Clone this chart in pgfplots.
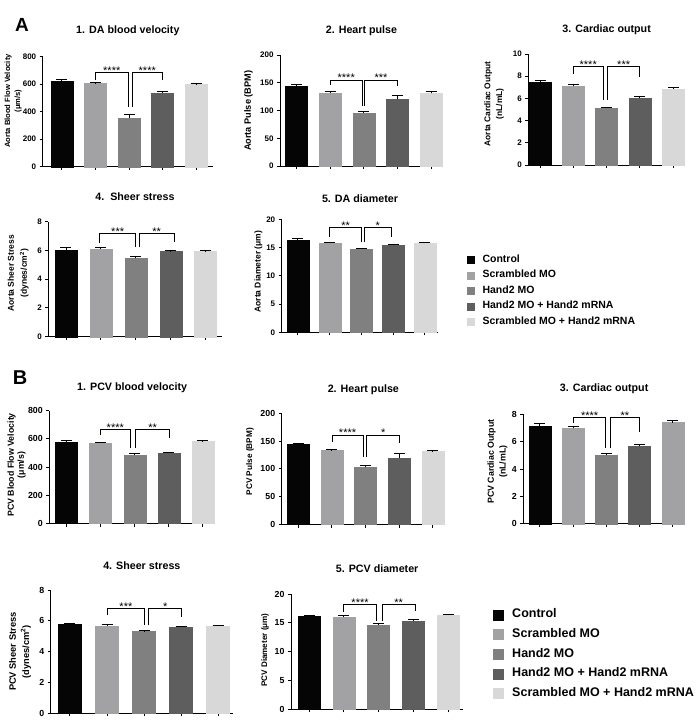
\documentclass[border=0pt]{standalone}
\usepackage{pgfplots}
\pgfplotsset{compat=1.18}
\usepackage{fontspec}
\setmainfont{Liberation Sans}
\definecolor{c1}{HTML}{050505}
\definecolor{c2}{HTML}{A2A2A4}
\definecolor{c3}{HTML}{808080}
\definecolor{c4}{HTML}{5E5E5E}
\definecolor{c5}{HTML}{D8D8D8}
\newcommand{\brk}[6]{%
  \draw[line width=0.8pt] (axis cs:#1,#2) -- (axis cs:#1,#5) -- node[anchor=base, yshift=-1.8pt, inner sep=0pt, font=\fontsize{11}{11}\selectfont] {#6} (axis cs:#3,#5) -- (axis cs:#3,#4);}
\pgfplotsset{
  panel/.style={
    ybar, bar width=22pt, bar shift=0pt,
    scale only axis, clip=false,
    axis x line=bottom, axis y line=left,
    axis line style={line width=1pt, -},
    tick style={line width=1pt, black},
    major tick length=3pt, tick align=outside,
    xtick={0,1,2,3,4}, xticklabels={,,,,},
    ymin=0, enlargelimits=false,
    /pgf/number format/assume math mode=true,
    yticklabel style={font=\bfseries\fontsize{8}{9}\selectfont},
    ylabel style={align=center, anchor=center},
    title style={at={(0.5,1)}, anchor=center, font=\bfseries\fontsize{10.7}{12}\selectfont},
    error bars/y dir=plus, error bars/y explicit,
    error bars/error bar style={line width=1pt, black},
    error bars/error mark options={rotate=90, mark size=5.5pt, line width=1pt, black},
  },
  b1/.style={fill=c1, draw=c1},
  b2/.style={fill=c2, draw=c2},
  b3/.style={fill=c3, draw=c3},
  b4/.style={fill=c4, draw=c4},
  b5/.style={fill=c5, draw=c5},
}
\begin{document}
\begin{tikzpicture}
\useasboundingbox (0,0) rectangle (700pt,-725pt);
\node[font=\bfseries\fontsize{19}{20}\selectfont] at (22pt,-25pt) {A};
\node[font=\bfseries\fontsize{20}{21}\selectfont] at (20pt,-378pt) {B};

% ---------- A1
\begin{axis}[panel, at={(42.7pt,-166.7pt)}, anchor=south west,
  width=170.3pt, height=110pt, xmin=-0.576, xmax=4.507, ymax=800, ytick distance=200,
  title={1. DA blood velocity}, title style={yshift=20pt},
  ylabel={Aorta Blood Flow Velocity\\(μm/s)},
  ylabel style={at={(axis description cs:-0.173,0.597)}, font=\bfseries\fontsize{7.6}{10}\selectfont}]
\addplot[b1] coordinates {(0,620) +- (0,15)};
\addplot[b2] coordinates {(1,605) +- (0,5)};
\addplot[b3] coordinates {(2,355) +- (0,22)};
\addplot[b4] coordinates {(3,538) +- (0,8)};
\addplot[b5] coordinates {(4,600) +- (0,4)};
\brk{1}{630}{1.97}{436}{686}{****}
\brk{2.09}{436}{3}{630}{686}{****}
\end{axis}

% ---------- A2
\begin{axis}[panel, at={(280pt,-166pt)}, anchor=south west,
  width=163pt, height=111pt, xmin=-0.497, xmax=4.357, ymax=200, ytick distance=50,
  title={2. Heart pulse}, title style={yshift=18.3pt},
  ylabel={Aorta Pulse (BPM)},
  ylabel style={at={(axis description cs:-0.194,0.497)}, font=\bfseries\fontsize{9.2}{11}\selectfont}]
\addplot[b1] coordinates {(0,143) +- (0,3)};
\addplot[b2] coordinates {(1,132) +- (0,3)};
\addplot[b3] coordinates {(2,96) +- (0,2)};
\addplot[b4] coordinates {(3,120) +- (0,7)};
\addplot[b5] coordinates {(4,131) +- (0,3)};
\brk{1}{146}{1.95}{108}{155}{****}
\brk{2.02}{108}{3}{144}{155}{***}
\end{axis}

% ---------- A3
\begin{axis}[panel, at={(528.3pt,-165pt)}, anchor=south west,
  width=156.7pt, height=111pt, xmin=-0.352, xmax=4.36, ymax=10, ytick distance=2,
  title={3. Cardiac output}, title style={yshift=18pt},
  ylabel={Aorta Cardiac Output\\(nL/mL)},
  ylabel style={at={(axis description cs:-0.218,0.55)}, font=\bfseries\fontsize{8.4}{11.7}\selectfont}]
\addplot[b1] coordinates {(0,7.45) +- (0,0.2)};
\addplot[b2] coordinates {(1,7.1) +- (0,0.15)};
\addplot[b3] coordinates {(2,5.15) +- (0,0.07)};
\addplot[b4] coordinates {(3,6.0) +- (0,0.2)};
\addplot[b5] coordinates {(4,6.85) +- (0,0.15)};
\brk{1}{8.2}{1.9}{5.9}{8.9}{****}
\brk{2.03}{5.9}{3}{7.9}{8.9}{***}
\end{axis}

% ---------- A4
\begin{axis}[panel, at={(48.3pt,-336.7pt)}, anchor=south west,
  width=173.4pt, height=115pt, xmin=-0.507, xmax=4.46, ymax=8, ytick distance=2,
  title={4.\ \ Sheer stress}, title style={yshift=19pt},
  ylabel={Aorta Sheer Stress\\(dynes/cm\textsuperscript{2})},
  ylabel style={at={(axis description cs:-0.173,0.551)}, font=\bfseries\fontsize{8.5}{13}\selectfont}]
\addplot[b1] coordinates {(0,6.05) +- (0,0.18)};
\addplot[b2] coordinates {(1,6.12) +- (0,0.08)};
\addplot[b3] coordinates {(2,5.45) +- (0,0.1)};
\addplot[b4] coordinates {(3,5.92) +- (0,0.08)};
\addplot[b5] coordinates {(4,5.92) +- (0,0.05)};
\brk{0.97}{6.55}{1.99}{6.26}{7.2}{***}
\brk{2.09}{6.26}{3.1}{6.6}{7.2}{**}
\end{axis}

% ---------- A5 (with legend)
\begin{axis}[panel, at={(281.7pt,-332.3pt)}, anchor=south west,
  width=156.6pt, height=113pt, xmin=-0.513, xmax=4.42, ymax=20, ytick distance=5,
  title={5. DA diameter}, title style={yshift=14.3pt},
  ylabel={Aorta Diameter (μm)},
  ylabel style={at={(axis description cs:-0.149,0.536)}, font=\bfseries\fontsize{8.5}{10}\selectfont},
  legend image code/.code={\fill[#1] (0pt,-3.5pt) rectangle (7pt,3.5pt);},
  legend cell align=left,
  legend style={at={(axis description cs:1.183,0.686)}, anchor=north west, draw=none, fill=none,
    inner sep=0pt, row sep=5.5pt, column sep=8pt,
    font=\bfseries\fontsize{10.5}{12}\selectfont,
    nodes={inner sep=0pt, text height=7.5pt, text depth=2.5pt}}]
\addplot[b1] coordinates {(0,16.3) +- (0,0.3)};
\addplot[b2] coordinates {(1,15.8) +- (0,0.15)};
\addplot[b3] coordinates {(2,14.75) +- (0,0.12)};
\addplot[b4] coordinates {(3,15.4) +- (0,0.15)};
\addplot[b5] coordinates {(4,15.8) +- (0,0.15)};
\legend{Control, Scrambled MO, Hand2 MO, Hand2 MO + Hand2 mRNA, Scrambled MO + Hand2 mRNA}
\brk{1}{16.9}{2.0}{16.05}{18.6}{**}
\brk{2.1}{16.05}{2.93}{16.8}{18.6}{*}
\end{axis}

% ---------- B1
\begin{axis}[panel, at={(49.3pt,-523.5pt)}, anchor=south west,
  width=165.7pt, height=112.8pt, xmin=-0.51, xmax=4.36, ymax=800, ytick distance=200,
  yticklabel style={font=\bfseries\fontsize{8.8}{10}\selectfont},
  title={1. PCV blood velocity}, title style={yshift=17.4pt},
  ylabel={PCV Blood Flow Velocity\\(μm/s)},
  ylabel style={at={(axis description cs:-0.197,0.519)}, font=\bfseries\fontsize{8.8}{10}\selectfont}]
\addplot[b1] coordinates {(0,580) +- (0,7)};
\addplot[b2] coordinates {(1,570) +- (0,6)};
\addplot[b3] coordinates {(2,488) +- (0,5)};
\addplot[b4] coordinates {(3,502) +- (0,5)};
\addplot[b5] coordinates {(4,583) +- (0,4)};
\brk{1}{627}{1.86}{537}{667}{****}
\brk{2.02}{537}{3.03}{608}{667}{**}
\end{axis}

% ---------- B2
\begin{axis}[panel, at={(281.7pt,-524.5pt)}, anchor=south west,
  width=163.3pt, height=111.2pt, xmin=-0.494, xmax=4.365, ymax=200, ytick distance=50,
  yticklabel style={font=\bfseries\fontsize{8.8}{10}\selectfont},
  title={2. Heart pulse}, title style={yshift=17.6pt},
  ylabel={PCV Pulse (BPM)},
  ylabel style={at={(axis description cs:-0.194,0.565)}, font=\bfseries\fontsize{8.2}{10}\selectfont}]
\addplot[b1] coordinates {(0,144) +- (0,2)};
\addplot[b2] coordinates {(1,133) +- (0,2)};
\addplot[b3] coordinates {(2,103) +- (0,3)};
\addplot[b4] coordinates {(3,120) +- (0,7)};
\addplot[b5] coordinates {(4,131) +- (0,3)};
\brk{1}{149}{1.93}{121}{161}{****}
\brk{2.03}{121}{3.02}{146}{161}{*}
\end{axis}

% ---------- B3
\begin{axis}[panel, at={(523.3pt,-523.7pt)}, anchor=south west,
  width=161.7pt, height=109.4pt, xmin=-0.503, xmax=4.37, ymax=8, ytick distance=2,
  yticklabel style={font=\bfseries\fontsize{8.8}{10}\selectfont},
  title={3. Cardiac output}, title style={yshift=19.3pt},
  ylabel={PCV Cardiac Output\\(nL/mL)},
  ylabel style={at={(axis description cs:-0.16,0.567)}, font=\bfseries\fontsize{8.8}{11.6}\selectfont}]
\addplot[b1] coordinates {(0,7.15) +- (0,0.17)};
\addplot[b2] coordinates {(1,6.97) +- (0,0.13)};
\addplot[b3] coordinates {(2,5.0) +- (0,0.12)};
\addplot[b4] coordinates {(3,5.65) +- (0,0.15)};
\addplot[b2] coordinates {(4,7.4) +- (0,0.12)};
\brk{1.02}{7.4}{1.97}{5.5}{7.76}{****}
\brk{2.12}{5.5}{3}{6.73}{7.76}{**}
\end{axis}

% ---------- B4
\begin{axis}[panel, at={(50.7pt,-713.3pt)}, anchor=south west, bar width=23pt,
  width=182.3pt, height=123.3pt, xmin=-0.52, xmax=4.40, ymax=8, ytick distance=2,
  yticklabel style={font=\bfseries\fontsize{8.8}{10}\selectfont},
  title={4. Sheer stress}, title style={yshift=18.3pt},
  ylabel={PCV Sheer Stress\\(dynes/cm\textsuperscript{2})},
  ylabel style={at={(axis description cs:-0.168,0.5)}, font=\bfseries\fontsize{9.3}{13.3}\selectfont}]
\addplot[b1] coordinates {(0,5.75) +- (0,0.08)};
\addplot[b2] coordinates {(1,5.67) +- (0,0.07)};
\addplot[b3] coordinates {(2,5.3) +- (0,0.06)};
\addplot[b4] coordinates {(3,5.57) +- (0,0.09)};
\addplot[b5] coordinates {(4,5.67) +- (0,0.06)};
\brk{1.02}{6.38}{2.0}{5.73}{6.81}{***}
\brk{2.12}{5.73}{3.02}{6.27}{6.81}{*}
\end{axis}

% ---------- B5 (with legend)
\begin{axis}[panel, at={(291pt,-709.3pt)}, anchor=south west,
  width=172.3pt, height=115.3pt, xmin=-0.517, xmax=4.43, ymax=20, ytick distance=5,
  yticklabel style={font=\bfseries\fontsize{8.8}{10}\selectfont},
  title={5. PCV diameter}, title style={yshift=19pt},
  ylabel={PCV Diameter (μm)},
  ylabel style={at={(axis description cs:-0.151,0.514)}, font=\bfseries\fontsize{8.1}{10}\selectfont},
  legend image code/.code={\fill[#1] (0pt,-5pt) rectangle (10pt,5pt);},
  legend cell align=left,
  legend style={at={(axis description cs:1.172,0.874)}, anchor=north west, draw=none, fill=none,
    inner sep=0pt, row sep=7.7pt, column sep=8.7pt,
    font=\bfseries\fontsize{12.5}{14}\selectfont,
    nodes={inner sep=0pt, text height=9pt, text depth=3pt}}]
\addplot[b1] coordinates {(0,16.1) +- (0,0.25)};
\addplot[b2] coordinates {(1,16.0) +- (0,0.2)};
\addplot[b3] coordinates {(2,14.65) +- (0,0.15)};
\addplot[b4] coordinates {(3,15.35) +- (0,0.2)};
\addplot[b5] coordinates {(4,16.35) +- (0,0.15)};
\legend{Control, Scrambled MO, Hand2 MO, Hand2 MO + Hand2 mRNA, Scrambled MO + Hand2 mRNA}
\brk{1}{16.9}{1.93}{15.3}{18.2}{****}
\brk{2.1}{15.3}{3.05}{17.05}{18.2}{**}
\end{axis}
\end{tikzpicture}
\end{document}
